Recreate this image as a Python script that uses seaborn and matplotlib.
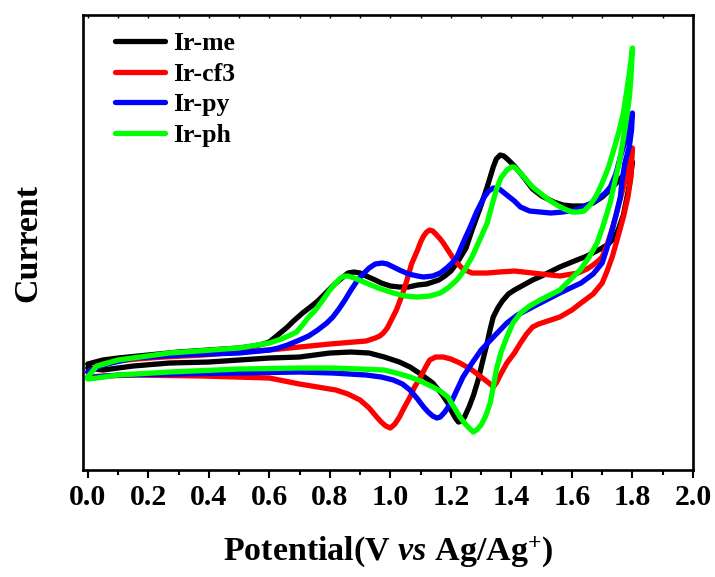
import numpy as np
import pandas as pd
import matplotlib
matplotlib.use("Agg")
import matplotlib.pyplot as plt
import seaborn as sns
from matplotlib.ticker import MultipleLocator
from matplotlib.lines import Line2D

# ---- data (current in arbitrary units) ----
names = ["Ir-me", "Ir-cf3", "Ir-py", "Ir-ph"]
colors = ["#000000", "#ff0000", "#0000ff", "#00ff00"]

me_fwd_v = [0.00, 0.05, 0.10, 0.20, 0.30, 0.40, 0.50, 0.55, 0.58, 0.60, 0.62, 0.64, 0.66, 0.68, 0.71, 0.74,
            0.76, 0.78, 0.80, 0.82, 0.84, 0.86, 0.88, 0.90, 0.92, 0.95, 0.97, 1.00, 1.03, 1.06, 1.09, 1.12,
            1.14, 1.16, 1.18, 1.20, 1.22, 1.25, 1.27, 1.30, 1.32, 1.34, 1.35, 1.363, 1.375, 1.39, 1.41, 1.44,
            1.47, 1.50, 1.54, 1.57, 1.60, 1.64, 1.67, 1.70, 1.725, 1.75, 1.78, 1.80]
me_fwd_i = [0.8, 1.2, 1.4, 1.7, 2.0, 2.2, 2.4, 2.6, 2.8, 3.0, 3.5, 4.0, 4.5, 5.1, 5.9, 6.6,
            7.1, 7.7, 8.3, 8.9, 9.4, 9.9, 10.0, 9.9, 9.6, 9.2, 8.9, 8.6, 8.5, 8.5, 8.7, 8.8,
            9.0, 9.2, 9.6, 10.1, 10.9, 12.4, 14.2, 16.7, 18.5, 20.5, 21.3, 21.7, 21.6, 21.2, 20.6, 19.5,
            18.3, 17.6, 17.0, 16.7, 16.6, 16.6, 16.9, 17.5, 18.2, 19.0, 20.0, 21.0]
me_rev_v = [1.80, 1.795, 1.79, 1.78, 1.77, 1.755, 1.74, 1.72, 1.70, 1.65, 1.60, 1.56, 1.50, 1.47, 1.41, 1.39,
            1.37, 1.355, 1.34, 1.33, 1.32, 1.305, 1.29, 1.275, 1.26, 1.245, 1.235, 1.225, 1.215, 1.20, 1.19, 1.17,
            1.14, 1.10, 1.065, 1.03, 0.98, 0.93, 0.87, 0.80, 0.70, 0.60, 0.40, 0.27, 0.15, 0.05, 0.00]
me_rev_i = [21.0, 19.8, 18.7, 17.2, 15.7, 14.4, 13.4, 12.8, 12.4, 11.6, 11.0, 10.5, 9.6, 9.2, 8.2, 7.8,
            7.1, 6.4, 5.5, 4.3, 2.9, 1.1, -0.8, -2.3, -3.5, -4.5, -4.9, -5.0, -4.6, -3.8, -3.1, -2.2,
            -1.1, -0.2, 0.5, 1.0, 1.5, 1.9, 2.0, 1.9, 1.5, 1.4, 1.0, 0.9, 0.6, 0.2, 0.4]

cf3_fwd_v = [0.00, 0.05, 0.10, 0.16, 0.25, 0.38, 0.50, 0.60, 0.70, 0.80, 0.92, 0.95, 0.965, 0.977, 0.99, 1.00,
             1.02, 1.04, 1.055, 1.07, 1.09, 1.10, 1.11, 1.12, 1.13, 1.14, 1.15, 1.165, 1.175, 1.19, 1.205, 1.22,
             1.24, 1.27, 1.32, 1.36, 1.41, 1.47, 1.56, 1.62, 1.65, 1.67, 1.69, 1.70, 1.715, 1.735, 1.75, 1.77,
             1.785, 1.80]
cf3_fwd_i = [0.0, 0.8, 1.1, 1.3, 1.5, 1.7, 2.0, 2.2, 2.5, 2.8, 3.1, 3.4, 3.6, 3.9, 4.4, 5.0,
             6.2, 7.8, 9.2, 10.8, 12.2, 13.0, 13.6, 14.0, 14.2, 14.1, 13.8, 13.3, 12.9, 12.2, 11.5, 10.9,
             10.3, 9.9, 9.9, 10.0, 10.1, 9.9, 9.6, 9.9, 10.3, 10.7, 11.2, 11.5, 12.6, 14.5, 16.2, 18.5,
             20.4, 22.4]
cf3_rev_v = [1.80, 1.795, 1.785, 1.77, 1.75, 1.733, 1.715, 1.70, 1.67, 1.63, 1.60, 1.56, 1.52, 1.49, 1.47, 1.45,
             1.43, 1.41, 1.385, 1.365, 1.35, 1.34, 1.33, 1.30, 1.27, 1.23, 1.20, 1.175, 1.15, 1.13, 1.115, 1.10,
             1.08, 1.065, 1.045, 1.03, 1.015, 1.00, 0.985, 0.97, 0.955, 0.93, 0.90, 0.86, 0.82, 0.76, 0.70, 0.65,
             0.60, 0.38, 0.16, 0.05, 0.00]
cf3_rev_i = [22.4, 19.5, 17.5, 15.5, 13.3, 11.5, 10.0, 8.9, 7.8, 6.9, 6.2, 5.5, 5.1, 4.8, 4.5, 3.8,
             2.9, 1.9, 0.9, -0.2, -1.1, -1.5, -1.2, -0.5, 0.2, 0.9, 1.3, 1.5, 1.5, 1.2, 0.4, -0.5,
             -1.5, -2.5, -3.6, -4.5, -5.2, -5.6, -5.4, -5.0, -4.5, -3.6, -2.8, -2.2, -1.8, -1.5, -1.2, -0.9,
             -0.6, -0.4, -0.3, -0.4, -0.5]

py_fwd_v = [0.00, 0.05, 0.15, 0.30, 0.50, 0.60, 0.63, 0.66, 0.70, 0.73, 0.76, 0.79, 0.81, 0.83, 0.85, 0.87,
            0.89, 0.91, 0.93, 0.95, 0.973, 0.99, 1.01, 1.03, 1.06, 1.09, 1.11, 1.14, 1.165, 1.19, 1.21, 1.22,
            1.24, 1.264, 1.285, 1.31, 1.325, 1.34, 1.36, 1.385, 1.41, 1.43, 1.46, 1.495, 1.53, 1.57, 1.61, 1.64,
            1.67, 1.69, 1.71, 1.727, 1.745, 1.76, 1.775, 1.785, 1.795, 1.80]
py_fwd_i = [0.0, 0.7, 1.4, 1.7, 1.9, 2.2, 2.4, 2.7, 3.2, 3.6, 4.2, 4.9, 5.5, 6.3, 7.2, 8.2,
            9.1, 9.8, 10.4, 10.8, 10.9, 10.8, 10.5, 10.2, 9.8, 9.6, 9.5, 9.6, 9.9, 10.5, 11.1, 11.5,
            12.9, 14.5, 16.0, 17.5, 18.1, 18.4, 18.3, 17.7, 17.1, 16.5, 16.1, 16.0, 15.9, 16.0, 16.2, 16.5,
            17.0, 17.4, 17.9, 18.5, 19.8, 21.5, 23.0, 24.2, 25.2, 25.9]
py_rev_v = [1.80, 1.797, 1.79, 1.775, 1.765, 1.76, 1.745, 1.73, 1.715, 1.70, 1.67, 1.63, 1.56, 1.47, 1.42, 1.385,
            1.35, 1.30, 1.27, 1.24, 1.22, 1.20, 1.18, 1.165, 1.154, 1.14, 1.125, 1.11, 1.09, 1.065, 1.04, 1.01,
            0.97, 0.92, 0.81, 0.70, 0.50, 0.30, 0.10, 0.03, 0.00]
py_rev_i = [25.9, 24.2, 22.6, 20.9, 19.0, 17.5, 15.6, 13.9, 12.3, 10.9, 9.8, 8.9, 7.9, 6.5, 5.7, 4.9,
            3.8, 2.2, 0.9, -0.5, -1.8, -3.1, -4.0, -4.5, -4.6, -4.4, -4.0, -3.5, -2.7, -1.8, -1.2, -0.8,
            -0.5, -0.3, -0.1, 0.0, -0.1, -0.2, -0.3, -0.5, -0.6]

ph_fwd_v = [0.00, 0.03, 0.10, 0.27, 0.50, 0.60, 0.64, 0.67, 0.69, 0.71, 0.73, 0.75, 0.77, 0.80, 0.82, 0.835,
            0.85, 0.86, 0.88, 0.92, 0.96, 1.01, 1.05, 1.09, 1.13, 1.165, 1.19, 1.22, 1.245, 1.27, 1.295, 1.32,
            1.335, 1.35, 1.365, 1.385, 1.40, 1.41, 1.43, 1.45, 1.47, 1.495, 1.52, 1.55, 1.575, 1.60, 1.62, 1.64,
            1.66, 1.68, 1.70, 1.72, 1.735, 1.755, 1.77, 1.78, 1.79, 1.80]
ph_fwd_i = [-0.5, 0.6, 1.2, 1.9, 2.4, 2.9, 3.3, 3.7, 4.0, 4.7, 5.5, 6.1, 6.9, 8.2, 8.9, 9.4,
            9.6, 9.6, 9.4, 8.9, 8.4, 7.9, 7.6, 7.5, 7.6, 7.9, 8.4, 9.2, 10.2, 11.5, 13.2, 14.9,
            16.6, 18.2, 19.4, 20.2, 20.5, 20.5, 19.9, 19.2, 18.5, 17.9, 17.3, 16.7, 16.3, 16.0, 16.0, 16.1,
            16.7, 17.6, 18.9, 20.4, 21.9, 24.0, 25.9, 27.9, 29.9, 32.4]
ph_rev_v = [1.80, 1.795, 1.79, 1.783, 1.77, 1.756, 1.74, 1.726, 1.705, 1.683, 1.655, 1.627, 1.59, 1.56, 1.495, 1.46,
            1.43, 1.405, 1.385, 1.365, 1.35, 1.34, 1.33, 1.315, 1.30, 1.285, 1.274, 1.26, 1.245, 1.23, 1.21, 1.19,
            1.165, 1.14, 1.10, 1.065, 1.02, 0.98, 0.90, 0.81, 0.70, 0.50, 0.27, 0.10, 0.03, 0.00]
ph_rev_i = [32.2, 29.5, 27.5, 25.9, 23.3, 20.9, 18.8, 16.9, 14.8, 12.9, 11.4, 10.2, 9.1, 8.2, 7.2, 6.6,
            5.9, 4.9, 3.5, 1.9, 0.2, -1.5, -3.1, -4.4, -5.3, -5.8, -6.0, -5.6, -5.1, -4.5, -3.5, -2.5,
            -1.9, -1.5, -0.9, -0.5, -0.1, 0.2, 0.3, 0.4, 0.4, 0.3, 0.0, -0.3, -0.6, -0.7]

x_ticks = [0.0, 0.2, 0.4, 0.6, 0.8, 1.0, 1.2, 1.4, 1.6, 1.8, 2.0]

curves = {
    "Ir-me": (me_fwd_v + me_rev_v, me_fwd_i + me_rev_i),
    "Ir-cf3": (cf3_fwd_v + cf3_rev_v, cf3_fwd_i + cf3_rev_i),
    "Ir-py": (py_fwd_v + py_rev_v, py_fwd_i + py_rev_i),
    "Ir-ph": (ph_fwd_v + ph_rev_v, ph_fwd_i + ph_rev_i),
}
frames = []
for n in names:
    v, i = curves[n]
    frames.append(pd.DataFrame({"V": v, "I": i, "compound": n}))
df = pd.concat(frames, ignore_index=True)

# ---- style ----
sns.set_theme(style="ticks")
plt.rcParams["font.family"] = ["Liberation Serif", "DejaVu Serif"]
plt.rcParams["font.weight"] = "bold"
plt.rcParams["text.color"] = "black"
plt.rcParams["axes.labelcolor"] = "black"
plt.rcParams["xtick.color"] = "black"
plt.rcParams["ytick.color"] = "black"
plt.rcParams["mathtext.fontset"] = "custom"
plt.rcParams["mathtext.rm"] = "Liberation Serif:bold"
plt.rcParams["mathtext.it"] = "Liberation Serif:italic:bold"
plt.rcParams["mathtext.bf"] = "Liberation Serif:bold"

fig = plt.figure(figsize=(7.15, 5.77), dpi=100)
ax = fig.add_axes([0.1157, 0.1854, 0.8535, 0.7886])

sns.lineplot(data=df, x="V", y="I", hue="compound", hue_order=names,
             palette=colors, sort=False, estimator=None, units="compound",
             linewidth=3.8, ax=ax, legend=False)
for ln in ax.lines:
    ln.set_solid_capstyle("round")
    ln.set_solid_joinstyle("round")

ax.set_xlim(-0.0165, 2.0)
ax.set_ylim(-9.8, 35.7)
ax.set_xticks(x_ticks)
ax.set_xticklabels([f"{t:.1f}" for t in x_ticks])
ax.xaxis.set_minor_locator(MultipleLocator(0.1))
ax.set_yticks([])

for s in ax.spines.values():
    s.set_linewidth(1.9)
    s.set_color("black")

ax.tick_params(axis="x", which="major", direction="out", length=6, width=1.5,
               labelsize=21.5, pad=4, top=False, colors="black")
ax.tick_params(axis="x", which="minor", direction="out", length=3.5, width=1.5, top=False)
for lab in ax.get_xticklabels():
    lab.set_fontweight("bold")

# small inward ticks on top spine
secx = ax.secondary_xaxis("top")
secx.set_xticks(x_ticks)
secx.xaxis.set_minor_locator(MultipleLocator(0.1))
secx.tick_params(axis="x", which="both", direction="in", length=2, width=1.0, labeltop=False)
secx.spines["top"].set_visible(False)

ax.set_xlabel(r"Potential(V $\mathit{vs}$ Ag/Ag$^{+}$)", fontsize=24.5, fontweight="bold",
              labelpad=17, color="black")
ax.set_ylabel("Current", fontsize=24.5, fontweight="bold", labelpad=28, color="black")

handles = [Line2D([0], [0], color=c, linewidth=3.8) for c in colors]
leg = ax.legend(handles, names, loc="upper left", bbox_to_anchor=(0.04, 0.98),
                frameon=False, labelspacing=0.3, handlelength=1.95,
                handletextpad=0.3, borderaxespad=0.0, borderpad=0.3,
                prop={"family": "Liberation Serif", "weight": "bold", "size": 18.5})
for t in leg.get_texts():
    t.set_color("black")

fig.savefig("out.png", dpi=100)
